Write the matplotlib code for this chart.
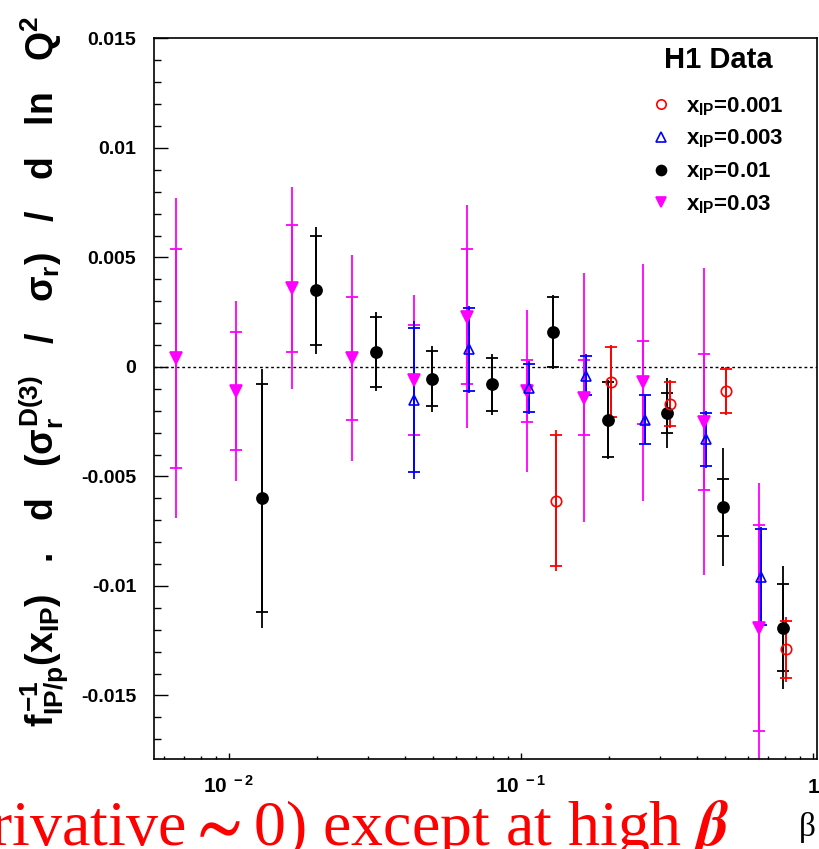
import matplotlib
matplotlib.use('Agg')
import matplotlib.pyplot as plt
from matplotlib.ticker import MultipleLocator, FuncFormatter, LogLocator, NullFormatter

plt.rcParams['font.family'] = ['Liberation Sans', 'DejaVu Sans']
plt.rcParams['font.weight'] = 'bold'
plt.rcParams['axes.labelweight'] = 'bold'
plt.rcParams['mathtext.fontset'] = 'custom'
plt.rcParams['mathtext.rm'] = 'Liberation Sans:bold'
plt.rcParams['mathtext.it'] = 'Liberation Sans:bold'
plt.rcParams['mathtext.bf'] = 'Liberation Sans:bold'
plt.rcParams['mathtext.sf'] = 'Liberation Sans:bold'

# x_IP = 0.001 (red, open circles)
beta_001 = [0.1318, 0.2033, 0.3238, 0.5036, 0.808]
val_001 = [-0.0061, -0.0007, -0.0017, -0.0011, -0.0129]
stat_001 = [0.0030, 0.0016, 0.0010, 0.0010, 0.0013]
tot_001 = [0.0032, 0.0017, 0.0011, 0.0011, 0.0015]

# x_IP = 0.003 (blue, open triangles)
beta_003 = [0.0430, 0.0664, 0.1065, 0.1670, 0.2659, 0.4303, 0.6637]
val_003 = [-0.0015, 0.0008, -0.00095, -0.0004, -0.0024, -0.0033, -0.0096]
stat_003 = [0.0033, 0.0019, 0.0011, 0.0009, 0.0011, 0.0012, 0.0022]
tot_003 = [0.0036, 0.0020, 0.0012, 0.0010, 0.0011, 0.0013, 0.0023]

# x_IP = 0.01 (black, filled circles)
beta_01 = [0.01297, 0.01986, 0.03187, 0.04956, 0.0796, 0.1288, 0.1986, 0.3162, 0.4919, 0.789]
val_01 = [-0.0060, 0.0035, 0.0007, -0.00054, -0.0008, 0.0016, -0.0024, -0.0021, -0.0064, -0.0119]
stat_01 = [0.0052, 0.0025, 0.0016, 0.00125, 0.0012, 0.0016, 0.0017, 0.0009, 0.0013, 0.0020]
tot_01 = [0.0059, 0.0029, 0.0018, 0.0015, 0.0014, 0.0017, 0.0018, 0.0016, 0.0027, 0.0028]

# x_IP = 0.03 (magenta, filled down triangles)
beta_03 = [0.00658, 0.01057, 0.01643, 0.02637, 0.04303, 0.0653, 0.1049, 0.1643, 0.2618, 0.4234, 0.6531]
val_03 = [0.0004, -0.0011, 0.0036, 0.0004, -0.0006, 0.0023, -0.0011, -0.0014, -0.0007, -0.0025, -0.0119]
stat_03 = [0.0050, 0.0027, 0.0029, 0.0028, 0.0025, 0.0031, 0.0014, 0.0017, 0.0019, 0.0031, 0.0047]
tot_03 = [0.0073, 0.0041, 0.0046, 0.0047, 0.0039, 0.0051, 0.0037, 0.0057, 0.0054, 0.0070, 0.0066]

series = [
    (beta_01, val_01, stat_01, tot_01, 'black', 'o', 'black', r'$x_{IP}$=0.01'),
    (beta_03, val_03, stat_03, tot_03, '#ff00ff', 'v', '#ff00ff', r'$x_{IP}$=0.03'),
    (beta_003, val_003, stat_003, tot_003, '#0000ff', '^', 'none', r'$x_{IP}$=0.003'),
    (beta_001, val_001, stat_001, tot_001, '#ff0000', 'o', 'none', r'$x_{IP}$=0.001'),
]

fig = plt.figure(figsize=(8.19, 8.49), dpi=100)
ax = fig.add_axes([0.1884, 0.106, 0.8092, 0.8498])

ax.axhline(0, color='black', lw=1, ls=(0, (2, 2)), zorder=1)

handles = {}
for b, v, s, t, col, mk, mfc, lab in series:
    ax.errorbar(b, v, yerr=t, fmt='none', ecolor=col, elinewidth=1.3, capsize=0, zorder=2)
    ax.errorbar(b, v, yerr=s, fmt='none', ecolor=col, elinewidth=1.3, capsize=4.3,
                capthick=1.3, zorder=2)
    ms = 7.5 if mfc == 'none' else 8
    h, = ax.plot(b, v, ls='none', marker=mk, ms=ms, color=col, mfc=mfc, mec=col,
                 mew=1.2, zorder=3, label=lab)
    handles[lab] = h

ax.set_xscale('log')
ax.set_xlim(0.00555, 1.032)
ax.set_ylim(-0.0179, 0.01504)

ax.yaxis.set_major_locator(MultipleLocator(0.005))
ax.yaxis.set_minor_locator(MultipleLocator(0.001))
ax.yaxis.set_major_formatter(FuncFormatter(lambda v, p: '%g' % round(v, 4)))
ax.xaxis.set_minor_locator(LogLocator(base=10, subs=range(2, 10)))
ax.xaxis.set_minor_formatter(NullFormatter())
ax.set_xticks([0.01, 0.1, 1], labels=[r'$10^{\ -2}$', r'$10^{\ -1}$', '1'], va='baseline')

ax.tick_params(which='both', direction='in', top=False, right=False, width=1)
ax.tick_params(axis='y', which='major', length=10, pad=13, labelsize=14)
ax.tick_params(axis='y', which='minor', length=5)
ax.tick_params(axis='x', which='major', length=4, pad=24.5, labelsize=15)
ax.tick_params(axis='x', which='minor', length=2)
for sp in ax.spines.values():
    sp.set_linewidth(1.2)

ax.set_ylabel(r'$f_{IP/p}^{-1}(x_{IP})$   .   d   ($\sigma_r^{D(3)}$   /   $\sigma_r$)   /   d   ln   Q$^2$',
              fontsize=27, fontweight='bold')
ax.yaxis.set_label_coords(-0.125, 0.537)

ax.set_xlabel('β', fontsize=24, family='Liberation Serif', fontweight='normal', va='top')
ax.xaxis.set_label_coords(0.986, -0.074)

ax.text(0.8506, 0.969, 'H1 Data', transform=ax.transAxes, ha='center', va='center',
        fontsize=21, fontweight='bold')
order = [r'$x_{IP}$=0.001', r'$x_{IP}$=0.003', r'$x_{IP}$=0.01', r'$x_{IP}$=0.03']
ax.legend([handles[k] for k in order], order, loc='upper left',
          bbox_to_anchor=(0.748, 0.92), frameon=False, fontsize=16,
          markerscale=0.9, handlelength=1.0, handletextpad=0.6,
          borderpad=0, borderaxespad=0, labelspacing=0.45)

fig.text(730 / 819, 1 - 845 / 849, r'(derivative$\sim$0) except at high $\beta$',
         color='red', fontsize=46, family='Liberation Serif', fontweight='normal',
         math_fontfamily='stix', ha='right', va='baseline')

fig.savefig('out.png', dpi=100)
